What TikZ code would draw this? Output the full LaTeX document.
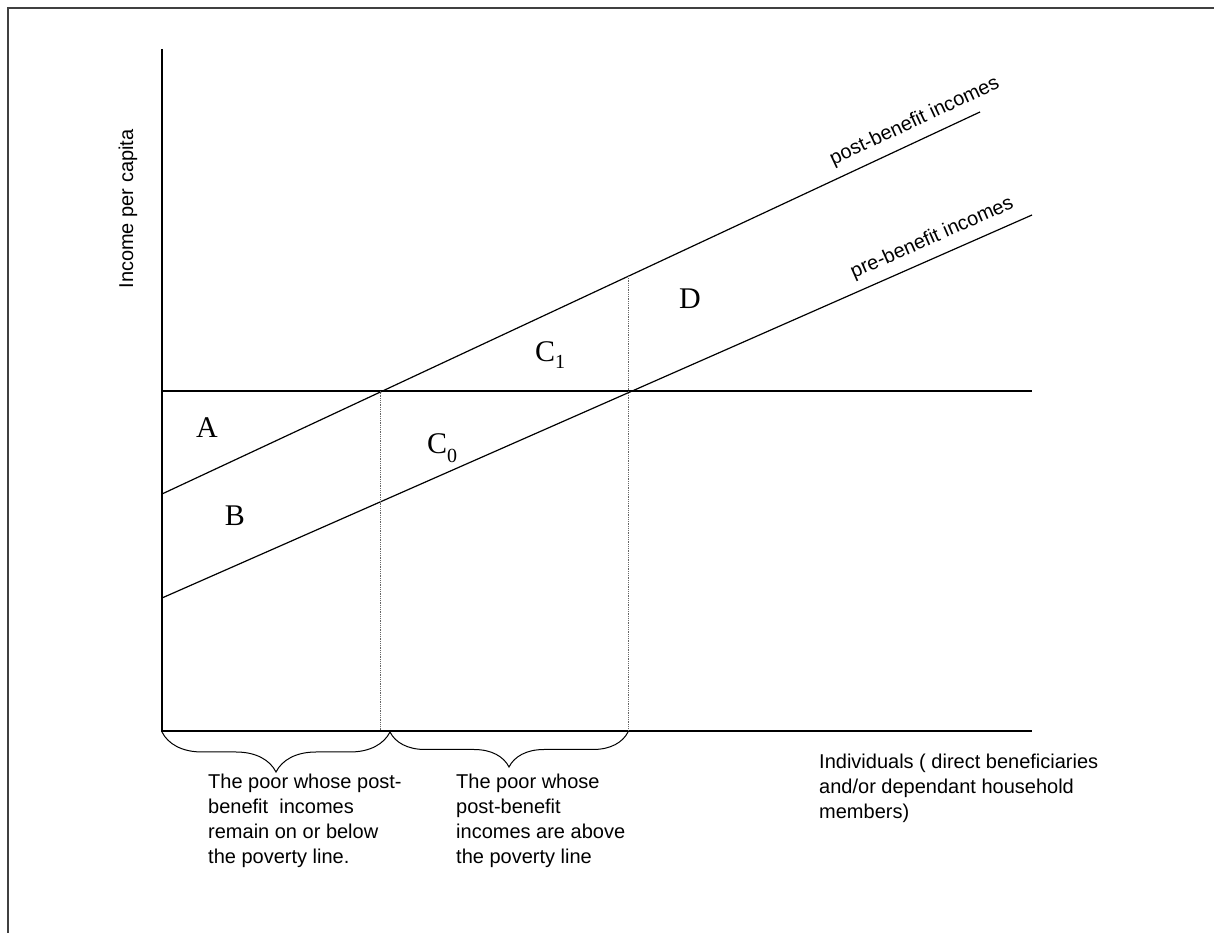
\documentclass[tikz,border=0pt]{standalone}
\usepackage{fontspec}
\setmainfont{Liberation Serif}
\setsansfont{Liberation Sans}
\usetikzlibrary{decorations.pathreplacing}
\begin{document}
\begin{tikzpicture}[x=1pt,y=1pt,
    lbl/.style={font=\sffamily\fontsize{20}{25}\selectfont, inner sep=0pt},
    area/.style={font=\fontsize{30}{30}\selectfont, anchor=base, inner sep=0pt},
    guide/.style={densely dotted, black!60, line width=0.8pt},
    curly/.style={decorate, decoration={brace, mirror, amplitude=#1}, line width=1pt}]
\useasboundingbox (0,0) rectangle (1214,933);
\draw[line width=2pt, black!75] (1214,925) -- (8,925) -- (8,0);
% axes and poverty line
\coordinate (top) at (162,884);
\coordinate (O) at (162,202);
\coordinate (xend) at (1032,202);
\coordinate (pov0) at (162,542);
\coordinate (pov1) at (1032,542);
\draw[line width=1.2pt] (top) -- (O) -- (xend);
\draw[line width=1.2pt] (pov0) -- (pov1);
% income lines
\coordinate (post0) at (162,439);
\coordinate (post1) at (980,821);
\coordinate (pre0) at (162,335);
\coordinate (pre1) at (1032,718);
\draw[line width=1.2pt] (post0) -- (post1)
    node[lbl, pos=0.93, sloped, above, inner sep=9pt] {post-benefit incomes};
\draw[line width=1.2pt] (pre0) -- (pre1)
    node[lbl, pos=0.894, sloped, above, inner sep=9pt] {pre-benefit incomes};
% dotted guides
\coordinate (g1) at (380,542);
\coordinate (g1b) at (380,202);
\coordinate (g2) at (628,657);
\coordinate (g2b) at (628,202);
\draw[guide] (g1) -- (g1b);
\draw[guide] (g2) -- (g2b);
% braces
\coordinate (b0) at (162,201);
\coordinate (b1) at (390,201);
\coordinate (b2) at (628,201);
\draw[curly=40pt] (b0) -- (b1);
\draw[curly=35pt] (b1) -- (b2);
% area labels
\node[area] (A) at (207,495) {A};
\node[area] (B) at (235,407) {B};
\node[area] (C0) at (442,479) {C\raisebox{-9pt}{\fontsize{20}{20}\selectfont 0}};
\node[area] (C1) at (550,571) {C\raisebox{-7pt}{\fontsize{20}{20}\selectfont 1}};
\node[area] (D) at (690,624) {D};
% axis texts
\node[lbl, rotate=90] (ylab) at (128,724) {Income per capita};
\node[lbl, align=left, anchor=north west] (poor1) at (208,159)
    {The poor whose post-\\benefit~ incomes\\remain on or below\\the poverty line.};
\node[lbl, align=left, anchor=north west] (poor2) at (456,159)
    {The poor whose\\post-benefit\\incomes are above\\the poverty line};
\node[lbl, align=left, anchor=north west] (xlab) at (819,179)
    {Individuals ( direct beneficiaries\\and/or dependant household\\members)};
\end{tikzpicture}
\end{document}
